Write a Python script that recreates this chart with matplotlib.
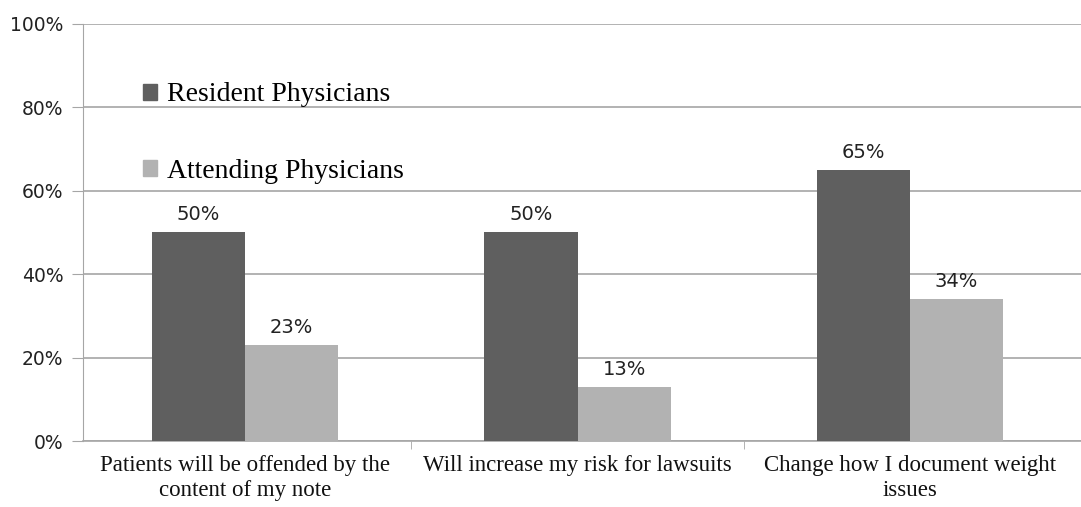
import numpy as np
import matplotlib
matplotlib.use("Agg")
import matplotlib.pyplot as plt
from matplotlib.patches import Patch

categories = [
    "Patients will be offended by the\ncontent of my note",
    "Will increase my risk for lawsuits",
    "Change how I document weight\nissues",
]
series_names = ["Resident Physicians", "Attending Physicians"]
resident = [50, 50, 65]
attending = [23, 13, 34]

dark = "#5f5f5f"
light = "#b2b2b2"
axis_grey = "#a6a6a6"


def main():
    fig = plt.figure(figsize=(10.81, 5.07), dpi=100)
    ax = fig.add_axes([0.0768, 0.130, 0.9232, 0.823])

    x = np.arange(len(categories))
    w = 0.28
    ax.bar(x - w / 2, resident, width=w, color=dark, zorder=3)
    ax.bar(x + w / 2, attending, width=w, color=light, zorder=3)

    # value labels above the bars
    for xi, v in zip(x - w / 2, resident):
        ax.text(xi, v + 2, f"{v}%", ha="center", va="bottom",
                fontsize=14, family="DejaVu Sans", color="#222222")
    for xi, v in zip(x + w / 2, attending):
        ax.text(xi, v + 2, f"{v}%", ha="center", va="bottom",
                fontsize=14, family="DejaVu Sans", color="#222222")

    ax.set_xlim(-0.487, 2.514)
    ax.set_ylim(0, 100)
    ax.set_yticks(range(0, 101, 20))
    ax.set_yticklabels([f"{t}%" for t in range(0, 101, 20)],
                       fontsize=13.5, family="DejaVu Sans", color="#222222")
    ax.yaxis.grid(True, color=axis_grey, linewidth=1.2, zorder=0)
    ax.tick_params(axis="y", length=8, color=axis_grey, pad=6)

    ax.set_xticks(x)
    ax.set_xticklabels(categories, fontsize=16.5, family="Liberation Serif",
                       color="#111111", linespacing=1.25)
    ax.tick_params(axis="x", which="major", length=0, pad=10)
    ax.set_xticks([0.5, 1.5], minor=True)
    ax.tick_params(axis="x", which="minor", length=6, color=axis_grey)

    for s in ["top", "right"]:
        ax.spines[s].set_visible(False)
    ax.spines["left"].set_color(axis_grey)
    ax.spines["bottom"].set_color(axis_grey)
    ax.spines["bottom"].set_linewidth(1.2)

    handles = [Patch(color=dark), Patch(color=light)]
    ax.legend(handles, series_names, loc="center left",
              bbox_to_anchor=(0.06, 0.738), frameon=False,
              prop={"family": "Liberation Serif", "size": 20},
              handlelength=0.5, handleheight=0.5, handletextpad=0.35,
              labelspacing=1.85, borderpad=0, borderaxespad=0)

    fig.savefig("out.png", dpi=100)


if __name__ == "__main__":
    main()
